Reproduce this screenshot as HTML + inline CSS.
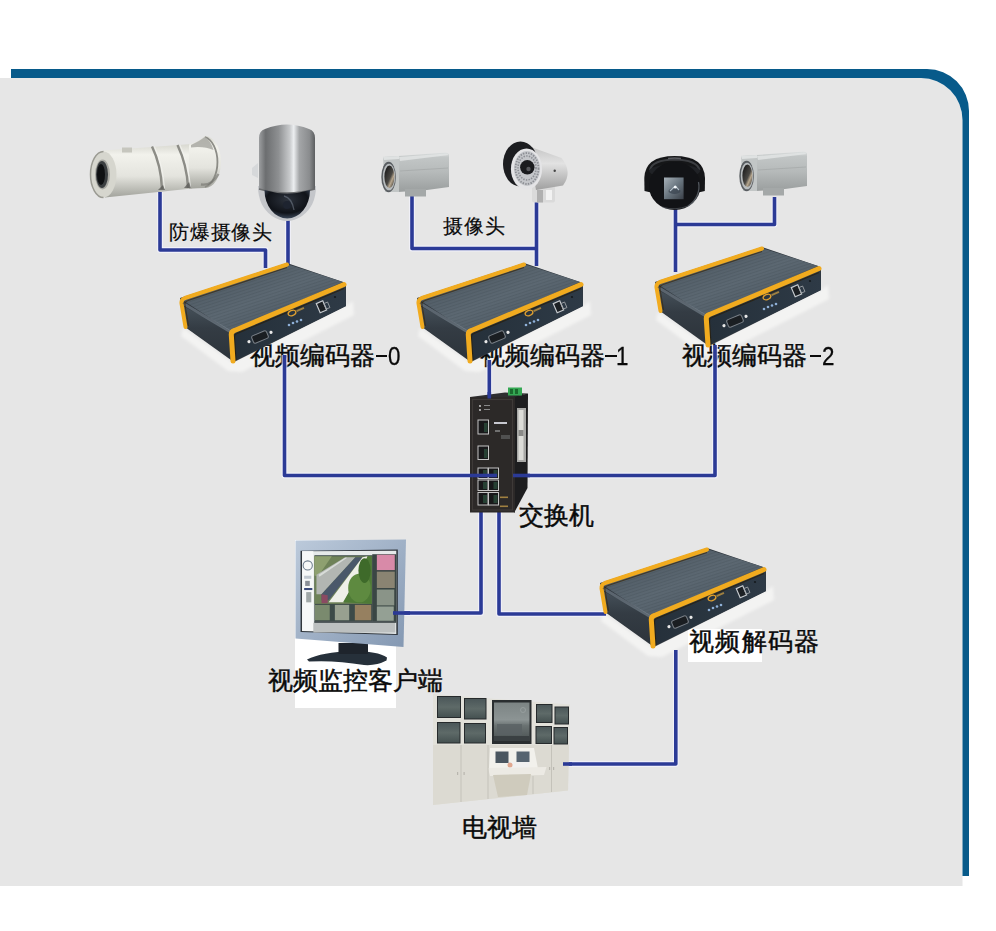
<!DOCTYPE html>
<html><head><meta charset="utf-8">
<style>
html,body{margin:0;padding:0;background:#fff;}
body{width:996px;height:931px;overflow:hidden;position:relative;font-family:"Liberation Sans",sans-serif;}
svg{position:absolute;left:0;top:0;}
.t{position:absolute;white-space:nowrap;color:#0a0a0a;line-height:1;font-family:"Liberation Sans",sans-serif;-webkit-text-stroke:0.45px #0a0a0a;}
.wb{position:absolute;background:#fff;}
.bar{position:absolute;background:#0a0a0a;}
.dg{font-size:26px;transform:scaleX(.86);transform-origin:0 0;-webkit-text-stroke:0.3px #0a0a0a;}
</style></head>
<body>
<svg width="996" height="931" viewBox="0 0 996 931">
<defs>
  <linearGradient id="gTop" x1="0" y1="0" x2="1" y2="1">
    <stop offset="0" stop-color="#46515a"/>
    <stop offset="0.5" stop-color="#5c6872"/>
    <stop offset="1" stop-color="#45505a"/>
  </linearGradient>
  <linearGradient id="gFront" x1="0" y1="0" x2="1" y2="0">
    <stop offset="0" stop-color="#25303a"/>
    <stop offset="1" stop-color="#2e3a46"/>
  </linearGradient>
  <pattern id="pRib" patternUnits="userSpaceOnUse" width="3" height="3" patternTransform="rotate(-18)">
    <rect width="3" height="1" fill="#101418" opacity="0.09"/>
  </pattern>
  <linearGradient id="gRefl" x1="0" y1="0" x2="0.25" y2="1">
    <stop offset="0" stop-color="#f8f8f6" stop-opacity="0.9"/>
    <stop offset="1" stop-color="#fbfbf8" stop-opacity="0"/>
  </linearGradient>
  <linearGradient id="gSide" x1="0" y1="0" x2="0" y2="1">
    <stop offset="0" stop-color="#46515a"/>
    <stop offset="0.4" stop-color="#343c44"/>
    <stop offset="1" stop-color="#2c333a"/>
  </linearGradient>
  <g id="enc">
    <polygon points="180,298 287,263 343,282 346,285 346,306 234,362 231,360 185,327" fill="#30373e"/>
    <polygon points="181,299 287,264 343,282 230,331" fill="url(#gTop)"/>
    <polygon points="181,299 287,264 343,282 230,331" fill="url(#pRib)"/>
    <polygon points="183,306 230,331 234,361 186,327" fill="url(#gSide)"/>
    <polygon points="231,332 345,284 346,306 234,361" fill="url(#gFront)"/>
    <path d="M184,304 L230,331.5" fill="none" stroke="#7f8d98" stroke-width="3" opacity="0.55"/>
    <path d="M188.5,326 L185,305 Q184.5,301.5 188,300.5 L287,267.5" fill="none" stroke="#3a2a10" stroke-width="1.1" opacity="0.75"/>
    <path d="M185.5,327 L181.5,303.5 Q181,299.5 185,298 L287,264.5" fill="none" stroke="#f1ab1f" stroke-width="4" stroke-linejoin="round" stroke-linecap="round"/>
    <path d="M236,360 L234.5,337 Q234.3,334.5 237,333.5 L344,288.5" fill="none" stroke="#2a1e0a" stroke-width="1.1" opacity="0.75"/>
    <path d="M233,361 L231.3,335 Q231,331.5 234.5,330.5 L344,284.5" fill="none" stroke="#f1ab1f" stroke-width="5" stroke-linejoin="round" stroke-linecap="round"/>
    <g transform="translate(260,337) rotate(-23)">
      <rect x="-8" y="-4" width="16" height="8" rx="2" fill="#1a1e22" stroke="#7a8088" stroke-width="1"/>
      <circle cx="-12" cy="0" r="1.6" fill="#e8e8e8"/>
      <circle cx="12" cy="0" r="1.6" fill="#e8e8e8"/>
    </g>
    <g transform="translate(292,313) rotate(-23)">
      <ellipse cx="0" cy="0" rx="4" ry="2.5" fill="none" stroke="#e0a030" stroke-width="1.3"/>
      <rect x="5" y="-1" width="8" height="2" fill="#a08040"/>
    </g>
    <g fill="#8fb0d8">
      <circle cx="289" cy="325" r="1.3"/><circle cx="293" cy="323" r="1.3"/><circle cx="297" cy="321.5" r="1.3"/><circle cx="301" cy="320" r="1.3"/>
    </g>
    <g transform="translate(321,307) rotate(-23)">
      <rect x="-3" y="-5" width="7" height="10" fill="#1c2024" stroke="#c8ccd0" stroke-width="1.2"/>
      <rect x="4" y="-2" width="4" height="6" fill="none" stroke="#a0a4a8" stroke-width="0.8"/>
    </g>
    <circle cx="335" cy="297" r="1.1" fill="#15191d"/>
  </g>

  <linearGradient id="gSilverV" x1="0" y1="0" x2="0" y2="1">
    <stop offset="0" stop-color="#dfe2e2"/>
    <stop offset="0.12" stop-color="#c2c6c6"/>
    <stop offset="0.5" stop-color="#b6baba"/>
    <stop offset="1" stop-color="#9a9e9e"/>
  </linearGradient>
  <linearGradient id="gLens" x1="0" y1="0" x2="1" y2="1">
    <stop offset="0" stop-color="#101012"/>
    <stop offset="0.55" stop-color="#4a4844"/>
    <stop offset="0.7" stop-color="#b8a890"/>
    <stop offset="1" stop-color="#1a1a1c"/>
  </linearGradient>
  <g id="boxcam">
    <polygon points="398,156 446,152.5 449,154 449,187 427,190 398,192" fill="url(#gSilverV)"/>
    <polygon points="399,157 446.5,153.5 449,155 400,161" fill="#e4e6e6" opacity="0.8"/>
    <line x1="400" y1="171" x2="448" y2="168" stroke="#9ea2a2" stroke-width="0.8" opacity="0.7"/>
    <polygon points="383,157 399,156 399,192 385,192" fill="#c2c6c6"/>
    <polygon points="383,157 399,156 399,159 384,160" fill="#dfe2e2"/>
    <rect x="405" y="189" width="21" height="7.5" fill="#a4a8a8"/>
    <ellipse cx="388.6" cy="177" rx="7.3" ry="15.3" fill="#5a5e62"/>
    <ellipse cx="389" cy="177" rx="6.2" ry="13.3" fill="#b8bcbe"/>
    <ellipse cx="389.4" cy="176.8" rx="5" ry="11.2" fill="url(#gLens)"/>
  </g>

  <linearGradient id="gExBody" x1="0" y1="0" x2="0" y2="1">
    <stop offset="0" stop-color="#d8d8d0"/>
    <stop offset="0.2" stop-color="#f2f2ec"/>
    <stop offset="0.6" stop-color="#e4e4de"/>
    <stop offset="1" stop-color="#a2a39c"/>
  </linearGradient>
  <linearGradient id="gPtz" x1="0" y1="0" x2="1" y2="0">
    <stop offset="0" stop-color="#9c9ea0"/>
    <stop offset="0.12" stop-color="#6c6e70"/>
    <stop offset="0.35" stop-color="#8e9092"/>
    <stop offset="0.55" stop-color="#c8cacc"/>
    <stop offset="0.62" stop-color="#eceef0"/>
    <stop offset="0.72" stop-color="#a4a6a8"/>
    <stop offset="0.9" stop-color="#8a8c8e"/>
    <stop offset="1" stop-color="#5c5e60"/>
  </linearGradient>
  <radialGradient id="gDome" cx="0.5" cy="0.35" r="0.65">
    <stop offset="0" stop-color="#2c323c"/>
    <stop offset="0.7" stop-color="#101319"/>
    <stop offset="1" stop-color="#3a4658"/>
  </radialGradient>
  <linearGradient id="gHouse" x1="0" y1="0" x2="1" y2="1">
    <stop offset="0" stop-color="#a8b2ba"/>
    <stop offset="0.5" stop-color="#6a7680"/>
    <stop offset="1" stop-color="#3a4048"/>
  </linearGradient>
  <linearGradient id="gBig" x1="0" y1="0" x2="0" y2="1">
    <stop offset="0" stop-color="#7c8484"/>
    <stop offset="0.45" stop-color="#8c9494"/>
    <stop offset="0.6" stop-color="#6a7272"/>
    <stop offset="1" stop-color="#4a5252"/>
  </linearGradient>
  <linearGradient id="gBullet" x1="0" y1="0" x2="0" y2="1">
    <stop offset="0" stop-color="#c4c4c4"/>
    <stop offset="0.4" stop-color="#e2e2e2"/>
    <stop offset="1" stop-color="#a0a0a0"/>
  </linearGradient>
  <linearGradient id="gBezel" x1="0" y1="0" x2="1" y2="1">
    <stop offset="0" stop-color="#bccadb"/>
    <stop offset="1" stop-color="#8498b2"/>
  </linearGradient>
  <linearGradient id="gScr" x1="0" y1="0" x2="0" y2="1">
    <stop offset="0" stop-color="#4a5658"/>
    <stop offset="0.5" stop-color="#5e6a68"/>
    <stop offset="1" stop-color="#445050"/>
  </linearGradient>
</defs>

<!-- frame -->
<path d="M0,78 L921,78 A41.5,42 0 0 1 962.5,120 L962.5,886 L0,886 Z" fill="#e6e6e6"/>
<path d="M11,69 L927,69 A42,42 0 0 1 969,111 L969,876 L962.5,876 L962.5,120 A41.5,42 0 0 0 921,78 L11,78 Z" fill="#075a8a"/>


<filter id="fBlur" x="-20%" y="-20%" width="140%" height="140%"><feGaussianBlur stdDeviation="1.5"/></filter>
<g id="refl" filter="url(#fBlur)"><polygon points="183,328 232,362 346,306 353,301 354,315 242,372 228,371 181,336" fill="#f6f6f4" opacity="0.85"/></g>
<use href="#refl" transform="translate(237,0)"/>
<use href="#refl" transform="translate(475,-16)"/>
<use href="#refl" transform="translate(420,285)"/>
<rect x="295" y="540" width="101" height="168" fill="#ffffff"/>
<rect x="688" y="629" width="74" height="33" fill="#ffffff"/>
</svg>
<div class="t" style="left:169px;top:222px;font-size:20px;letter-spacing:0.8px;-webkit-text-stroke:0.15px #0a0a0a;">防爆摄像头</div>
<div class="t" style="left:443px;top:216px;font-size:20px;letter-spacing:0.8px;-webkit-text-stroke:0.15px #0a0a0a;">摄像头</div>
<div class="t" style="left:250px;top:343px;font-size:25px;">视频编码器</div>
<div class="bar" style="left:376px;top:354.6px;width:11.3px;height:2.3px;"></div>
<div class="t dg" style="left:388px;top:343px;">0</div>
<div class="t" style="left:480px;top:343px;font-size:25px;">视频编码器</div>
<div class="bar" style="left:605px;top:354.6px;width:12px;height:2.3px;"></div>
<div class="t dg" style="left:616px;top:343px;">1</div>
<div class="t" style="left:682px;top:343px;font-size:25px;">视频编码器</div>
<div class="bar" style="left:810px;top:354.6px;width:11.3px;height:2.3px;"></div>
<div class="t dg" style="left:822px;top:343px;">2</div>
<div class="t" style="left:519px;top:503px;font-size:25px;">交换机</div>
<div class="t" style="left:689px;top:629px;font-size:25px;letter-spacing:1.3px;">视频解码器</div>
<div class="t" style="left:268px;top:668px;font-size:25px;">视频监控客户端</div>
<div class="t" style="left:462px;top:815px;font-size:25px;">电视墙</div>
<svg width="996" height="931" viewBox="0 0 996 931">
<!-- wire halos -->
<g fill="none" stroke="#f4f4ff" stroke-width="5.8" opacity="0.75" stroke-linejoin="round">
  <path d="M160,192 L160,250 L265.5,250 L265.5,268"/>
  <path d="M288,218 L288,268"/>
  <path d="M412,196 L412,248.5 L536.5,248.5"/>
  <path d="M536.5,202 L536.5,266"/>
  <path d="M675.5,206 L675.5,272"/>
  <path d="M675.5,224.5 L774.5,224.5 L774.5,197"/>
  <path d="M284.5,355 L284.5,475.5 L490,475.5"/>
  <path d="M515,475.5 L715,475.5 L715,345"/>
  <path d="M489.3,360 L489.3,398"/>
  <path d="M481,508 L481,613 L393,613"/>
  <path d="M499,508 L499,614 L606,614"/>
  <path d="M675.8,650 L675.8,764 L563,764"/>
</g>
<!-- wires (under) -->
<g fill="none" stroke="#2b3a96" stroke-width="3.6" stroke-linejoin="round">
  <path d="M160,192 L160,250 L265.5,250 L265.5,268"/>
  <path d="M288,218 L288,268"/>
  <path d="M412,196 L412,248.5 L536.5,248.5"/>
  <path d="M536.5,202 L536.5,266"/>
  <path d="M675.5,206 L675.5,272"/>
  <path d="M675.5,224.5 L774.5,224.5 L774.5,197"/>
  <path d="M284.5,355 L284.5,475.5 L490,475.5"/>
  <path d="M515,475.5 L715,475.5 L715,345"/>
  <path d="M489.3,360 L489.3,398"/>
  <path d="M481,508 L481,613 L393,613"/>
  <path d="M499,508 L499,614 L606,614"/>
  <path d="M675.8,650 L675.8,764 L563,764"/>
</g>

<!-- explosion-proof camera -->
<g>
  <path d="M104,150.5 L192,144 L192,188.5 L105,197.5 Z" fill="url(#gExBody)"/>
  <path d="M189,144.5 Q198,142 205,136 A16,26 0 0 1 205,188 Q198,188 189,188.8 Z" fill="url(#gExBody)"/>
  <path d="M205,137 A15.5,25.5 0 0 1 205,187" fill="none" stroke="#8c8c86" stroke-width="1.8"/>
  <path d="M191,145 Q199,141.5 205,137 Q211,141 213.5,150 Q204,146 191,147.5 Z" fill="#a9a9a3" opacity="0.85"/>
  <path d="M201,184.5 Q212,186 218.5,174" fill="none" stroke="#6e6e68" stroke-width="2.4" opacity="0.55"/>
  <path d="M152,146.5 Q161,165 162,189" fill="none" stroke="#8c8c86" stroke-width="2.4"/>
  <path d="M154.5,146.5 Q163,165 164.5,189" fill="none" stroke="#f4f4f0" stroke-width="1" opacity="0.8"/>
  <path d="M177.5,145 Q187,165 188,188" fill="none" stroke="#8c8c86" stroke-width="2.4"/>
  <path d="M180,145 Q189,165 190.5,188" fill="none" stroke="#f4f4f0" stroke-width="1" opacity="0.8"/>
  <path d="M158,190 L163,185 L165,190 Z" fill="#5a5a56" opacity="0.75"/>
  <path d="M184,188 L189,182 L191,188 Z" fill="#5a5a56" opacity="0.75"/>
  <rect x="122" y="147.5" width="10" height="5" fill="#c6c6be"/>
  <ellipse cx="103.5" cy="174.5" rx="13" ry="23" fill="#d6d6ce"/>
  <path d="M103.5,151.5 A13,23 0 0 0 103.5,197.5" fill="none" stroke="#9a9a92" stroke-width="1.5"/>
  <ellipse cx="102.5" cy="174.5" rx="7.5" ry="15" fill="#a8a8a2"/>
  <ellipse cx="102" cy="174.5" rx="6" ry="13.5" fill="#3a3e40"/>
  <ellipse cx="101" cy="174.5" rx="4" ry="10.5" fill="#0e1012"/>
</g>

<!-- PTZ dome -->
<g>
  <path d="M252,168 L258,163 L258,178 L252,175 Z" fill="#d6d8da"/>
  <path d="M258,186 Q258,206 272,216 Q287,226 302,216 Q316,206 316,186 Z" fill="#c4c6ca"/>
  <path d="M259,138 Q259,131 265,129 Q287,120 309,129 Q315,131 315,138 L315,189 Q287,197 259,189 Z" fill="url(#gPtz)"/>
  <path d="M259,189 Q287,197 315,189" fill="none" stroke="#6a6c6e" stroke-width="1.5"/>
  <path d="M264.5,190 Q287,197 310,190 A22.75,28.5 0 0 1 264.5,190 Z" fill="url(#gDome)"/>
  <path d="M284,196 Q292,198 294,210" fill="none" stroke="#8a94a4" stroke-width="1.3" opacity="0.45"/>
  <circle cx="287" cy="205" r="4" fill="#1e2430"/>
</g>

<!-- IR bullet -->
<g>
  <rect x="532" y="186" width="23" height="16.5" rx="2" fill="#dadada"/>
  <rect x="537" y="190" width="6" height="12.5" fill="#b0b0b0"/>
  <rect x="546" y="190" width="6" height="10" fill="#f2f2f2"/>
  <path d="M528,146 L561.5,158 Q573,172 563,185.5 L536,190 Z" fill="url(#gBullet)"/>
  <ellipse cx="520.5" cy="164" rx="17.5" ry="22.5" fill="#1c1d20"/>
  <ellipse cx="526.5" cy="169" rx="15.6" ry="20.5" fill="#e4e4e6"/>
  <ellipse cx="527" cy="168.5" rx="13" ry="17.5" fill="#c4c6ca"/>
  <ellipse cx="527" cy="168.5" rx="11.5" ry="15.5" fill="none" stroke="#8c8e94" stroke-width="1.8" stroke-dasharray="1.4 1.3"/>
  <ellipse cx="527" cy="168" rx="9" ry="12" fill="none" stroke="#8c8e94" stroke-width="1.6" stroke-dasharray="1.4 1.3"/>
  <circle cx="527.3" cy="167.3" r="7.2" fill="#1a1b1e"/>
  <circle cx="528.5" cy="169" r="2.2" fill="#55565a"/>
  <circle cx="554.7" cy="170.8" r="1.2" fill="#444"/>
</g>

<!-- dome camera -->
<g>
  <path d="M644.5,191 L644.3,178 Q645,156 674.6,156 Q704.3,156 705,178 L704.8,191 Q674.6,199 644.5,191 Z" fill="#151618"/>
  <path d="M650,170 Q652,160 674.6,159.5 Q697,160 699.5,170" fill="none" stroke="#3c3e42" stroke-width="2.2"/>
  <path d="M668,158.5 Q674.6,157.5 681,158.5" fill="none" stroke="#6a6c70" stroke-width="1.5" opacity="0.8"/>
  <ellipse cx="674.6" cy="171" rx="25.5" ry="6.5" fill="#202226"/>
  <ellipse cx="674.7" cy="186" rx="25.7" ry="24" fill="#121316"/>
  <path d="M698.5,182 A25,23.5 0 0 1 688,206" fill="none" stroke="#7c848c" stroke-width="1.3" opacity="0.6"/>
  <path d="M662,207 Q675,211 688,206" fill="none" stroke="#6c7278" stroke-width="1" opacity="0.5"/>
  <rect x="664" y="177.5" width="19.6" height="21.7" fill="url(#gHouse)"/>
  <ellipse cx="674.5" cy="191" rx="6" ry="3" fill="#3a4450" opacity="0.7"/>
  <path d="M670,191 L675.2,186 L679,190" fill="none" stroke="#c8d4de" stroke-width="1.1" opacity="0.8"/>
  <circle cx="675.2" cy="187.2" r="1.4" fill="#f4f8fb"/>
</g>

<!-- switch -->
<g>
  <polygon points="470,397 505,392.5 528,393.5 515,397" fill="#2e2e30"/>
  <polygon points="514.5,396.5 528,393.5 527.5,488 514,513" fill="#1d1d1f"/>
  <rect x="517" y="408" width="9" height="54" fill="#a8a8a6"/>
  <rect x="518.5" y="410" width="5" height="50" fill="#dcdcd8"/>
  <rect x="518.5" y="430" width="5" height="6" fill="#8a8a88"/>
  <rect x="470" y="397" width="45" height="115.5" fill="#2c2928"/>
  <rect x="472.5" y="399.5" width="40" height="110.5" fill="none" stroke="#3e3a38" stroke-width="1.2"/>
  <rect x="508" y="387.5" width="14" height="8" fill="#34a853"/>
  <rect x="510" y="389" width="3" height="5" fill="#1a6a2e"/><rect x="515" y="389" width="3" height="5" fill="#1a6a2e"/>
  <circle cx="480" cy="406" r="0.9" fill="#ddd"/><circle cx="480" cy="410" r="0.9" fill="#ddd"/>
  <rect x="484" y="405" width="6" height="1" fill="#888"/><rect x="484" y="409" width="6" height="1" fill="#888"/>
  <g fill="#18181a" stroke="#c4c4c4" stroke-width="1">
    <rect x="478" y="420" width="10.5" height="14"/>
    <rect x="478" y="446" width="10.5" height="13.5"/>
    <rect x="478" y="468" width="10" height="10.5"/><rect x="488.5" y="468" width="10" height="10.5"/>
    <rect x="478" y="480" width="10" height="10.5"/><rect x="488.5" y="480" width="10" height="10.5"/>
    <rect x="478" y="492.5" width="10" height="12.5"/><rect x="488.5" y="492.5" width="10" height="12.5"/>
  </g>
  <rect x="500" y="496.5" width="8" height="1.6" fill="#a08040"/>
  <rect x="500" y="505.5" width="8" height="1.6" fill="#a08040"/>
  <g fill="#2a4a3a" opacity="0.8">
    <rect x="483" y="470" width="4" height="7"/><rect x="493.5" y="470" width="4" height="7"/>
    <rect x="483" y="482" width="4" height="7"/><rect x="493.5" y="482" width="4" height="7"/>
    <rect x="483" y="495" width="4" height="8"/><rect x="493.5" y="495" width="4" height="8"/>
    <rect x="484" y="423" width="3.5" height="9"/><rect x="484" y="449" width="3.5" height="9"/>
  </g>
  <rect x="494" y="422" width="13" height="2" fill="#c8c8d0"/>
  <rect x="495" y="430" width="5" height="2" fill="#707070"/>
  <rect x="501" y="435" width="9" height="4" fill="#505050"/>
</g>
<!-- wires over switch -->
<g fill="none" stroke="#2b3a96" stroke-width="3.6">
  <path d="M470,475.5 L497,475.5"/>
  <path d="M513,475.5 L530,475.5"/>
  <path d="M489.3,392 L489.3,398.5"/>
</g>

<!-- monitor -->
<g>
  
  <path d="M307,659.5 Q322,652 352,651 Q378,651 387,657.5 L386.5,660.5 Q376,666 364,665 Q335,660 309,661.5 Z" fill="#26303a"/>
  <rect x="338.5" y="643" width="29.5" height="11" fill="#1e242c"/>
  <polygon points="295.5,540.5 406,539.5 403.5,647 295.5,638.5" fill="url(#gBezel)"/>
  <g transform="translate(298,545) scale(0.1024)">
    <polygon points="25,55 975,45 975,880 25,850" fill="#30363c"/>
    <polygon points="40,60 960,55 960,870 40,840" fill="#e6eaea"/>
    <rect x="40" y="60" width="110" height="780" fill="#f6f8f8"/>
    <circle cx="95" cy="200" r="45" fill="none" stroke="#6a7a8a" stroke-width="10"/>
    <rect x="60" y="300" width="70" height="30" fill="#c0c8d0"/>
    <rect x="70" y="350" width="45" height="50" fill="#8a9098"/>
    <rect x="60" y="420" width="80" height="20" fill="#3a4a7a"/>
    <rect x="80" y="460" width="50" height="100" fill="#a0a8a8"/>
    <rect x="160" y="100" width="570" height="660" fill="#3c4a48"/>
    <rect x="160" y="110" width="560" height="465" fill="#6e8258"/>
    <polygon points="160,110 330,110 200,300 160,300" fill="#8ea070"/>
    <polygon points="180,290 460,120 560,120 230,480 180,480" fill="#b2b6b2"/>
    <polygon points="200,290 460,125 480,125 210,310" fill="#d8dcd8"/>
    <polygon points="230,480 560,120 630,120 300,540 230,540" fill="#4a586a"/>
    <polygon points="300,560 630,120 680,110 450,560" fill="#eeefe8"/>
    <polygon points="440,560 560,350 640,200 680,110 720,110 720,575" fill="#4e7a36"/>
    <ellipse cx="600" cy="420" rx="110" ry="140" fill="#5e8a40"/>
    <ellipse cx="650" cy="250" rx="60" ry="120" fill="#3e6a2a"/>
    <polygon points="230,480 290,490 290,570 230,570" fill="#8a4a62"/>
    <rect x="165" y="585" width="145" height="150" fill="#7a8a6e"/>
    <rect x="360" y="585" width="140" height="150" fill="#98a090"/>
    <rect x="555" y="585" width="160" height="150" fill="#968060"/>
    <rect x="725" y="90" width="235" height="670" fill="#3a4644"/>
    <rect x="770" y="95" width="175" height="150" fill="#d88aa8"/>
    <rect x="770" y="260" width="175" height="160" fill="#8a8472"/>
    <rect x="770" y="435" width="170" height="155" fill="#8a9488"/>
    <rect x="770" y="600" width="165" height="140" fill="#94a094"/>
    <rect x="150" y="760" width="800" height="95" fill="#bcc0c0"/>
    <rect x="160" y="745" width="790" height="15" fill="#50585a"/>
  </g>
</g>

<!-- TV wall -->
<g>
  <polygon points="433,694 570,704.5 568,790.5 433,805" fill="#e2e1da"/>
  <polygon points="433,745 569,745 568,790.5 433,805" fill="#dcdad2"/>
  <g fill="url(#gScr)" stroke="#262a2c" stroke-width="1">
    <rect x="437.5" y="696.5" width="23" height="21"/>
    <rect x="464.5" y="698.5" width="21.5" height="20.5"/>
    <rect x="437.5" y="722.5" width="22.5" height="20.5"/>
    <rect x="464.5" y="723.5" width="21" height="19.5"/>
    <rect x="536.5" y="704.5" width="15.5" height="18"/>
    <rect x="555" y="707" width="13.5" height="17"/>
    <rect x="536" y="726.5" width="15.5" height="17"/>
    <rect x="554" y="727.5" width="13.5" height="16.5"/>
  </g>
  <rect x="492" y="700" width="39.5" height="44" fill="#2a2e30"/>
  <rect x="494" y="702.5" width="35.5" height="38.5" fill="url(#gBig)"/>
  <rect x="497" y="724" width="25" height="11" fill="#5a6264" opacity="0.8"/>
  <rect x="494" y="736" width="35.5" height="5" fill="#3a4042"/>
  <circle cx="523" cy="710" r="2.5" fill="none" stroke="#9aa2a2" stroke-width="0.8"/>
  <polygon points="490,748 534,748 538,769 489,769" fill="#f2f1ec"/>
  <rect x="495.5" y="751.5" width="13" height="11.5" fill="#4a5660"/>
  <rect x="516.5" y="751.5" width="13" height="10.5" fill="#566470"/>
  <rect x="509" y="762" width="20" height="6" fill="#f0f0f0"/>
  <circle cx="510" cy="765" r="2.5" fill="#e0a890"/>
  <polygon points="488,768 546.5,767 544,775 490,776" fill="#eceae4"/>
  <polygon points="493,775 531,774 527,795 498,797" fill="#cfcbbd"/>
  <g stroke="#c4c2ba" stroke-width="1">
    <line x1="461" y1="745" x2="461" y2="802"/>
    <line x1="488" y1="745" x2="488" y2="799"/>
    <line x1="533" y1="776" x2="533" y2="794"/>
    <line x1="551.5" y1="745" x2="551.5" y2="792"/>
  </g>
  <g fill="#b8b6ae">
    <rect x="457" y="772" width="1.2" height="3"/><rect x="463.5" y="772" width="1.2" height="3"/>
    <rect x="549" y="767" width="1.2" height="3"/><rect x="553" y="767" width="1.2" height="3"/>
  </g>
</g>
<!-- wires over things -->
<g fill="none" stroke="#2b3a96" stroke-width="3.6">
  <path d="M393,613 L410,613"/>
  <path d="M563,764 L572,764"/>
</g>

<!-- encoders -->
<use href="#enc"/>
<use href="#enc" transform="translate(237,0)"/>
<use href="#enc" transform="translate(475,-16)"/>
<use href="#enc" transform="translate(420,285)"/>

<!-- box cameras -->
<use href="#boxcam"/>
<use href="#boxcam" transform="translate(358,-1)"/>
</svg>
</body></html>
